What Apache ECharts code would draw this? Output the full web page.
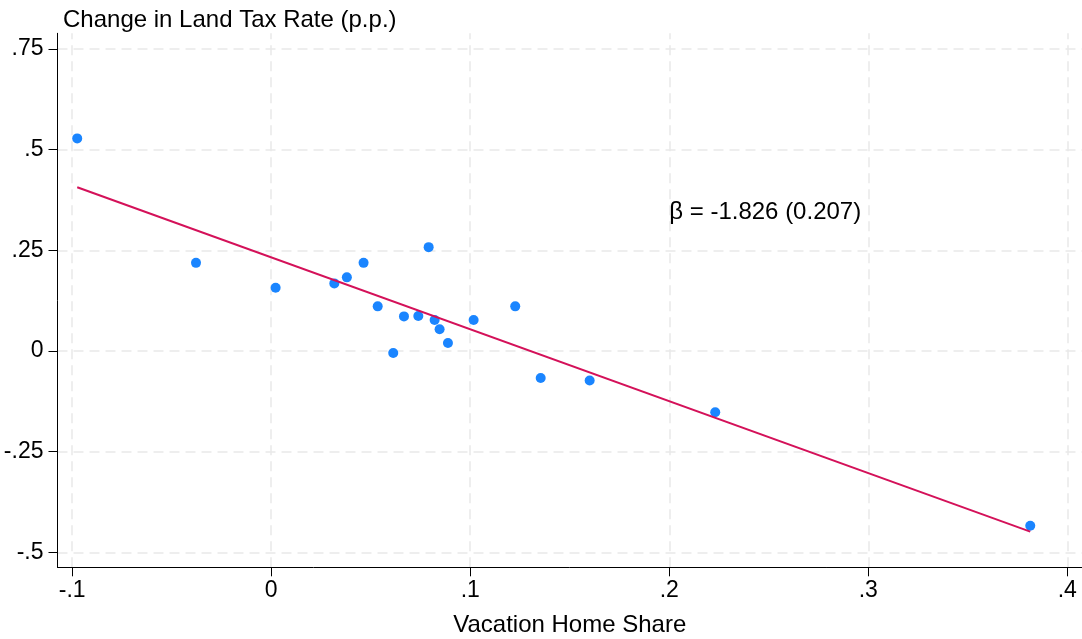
<!DOCTYPE html>
<html>
<head>
<meta charset="utf-8">
<script src="https://cdn.jsdelivr.net/npm/echarts@6/dist/echarts.min.js"></script>
<style>
  html, body { margin: 0; padding: 0; background: #fff; }
  #chart { width: 1082px; height: 639px; }
</style>
</head>
<body>
<div id="chart"></div>
<script>
// Datos
const xTicks = [-0.1, 0, 0.1, 0.2, 0.3, 0.4];
const yTicks = [-0.5, -0.25, 0, 0.25, 0.5, 0.75];

const vacationShare = [-0.0975, -0.0378, 0.0022, 0.0317, 0.0380, 0.0464, 0.0791, 0.0535, 0.0667, 0.0739,
                       0.0821, 0.0846, 0.0888, 0.0613, 0.1017, 0.1226, 0.1354, 0.1600, 0.2231, 0.3814];
const taxChange = [0.528, 0.219, 0.157, 0.168, 0.183, 0.219, 0.258, 0.111, 0.086, 0.087,
                   0.077, 0.054, 0.020, -0.005, 0.077, 0.111, -0.067, -0.073, -0.152, -0.434];

const fitX = [-0.0975, 0.3814];
const fitY = [0.4067, -0.4484];

const betaLabel = 'β = -1.826 (0.207)';
const betaPos = [0.2, 0.345];

const FONT = '"Liberation Sans", Arial, sans-serif';

// Formato estilo Stata: .5, -.25, 0
function fmt(v) {
    if (v === 0) return '0';
    return String(+v.toFixed(2)).replace('0.', '.');
}

const chart = echarts.init(document.getElementById('chart'));

const gridLine = { color: '#e9e9e9', width: 1.5, type: [10, 6] };

const option = {
    animation: false,
    backgroundColor: '#fff',
    title: {
        text: 'Change in Land Tax Rate (p.p.)',
        left: 58,
        top: 3,
        textStyle: { fontFamily: FONT, fontSize: 24, fontWeight: 'normal', color: '#000' }
    },
    grid: { left: 57.5, right: 0, top: 33.3, bottom: 71.7, outerBoundsMode: 'none' },
    xAxis: {
        type: 'value',
        min: -0.1074,
        max: 0.4074,
        name: 'Vacation Home Share',
        nameLocation: 'middle',
        nameGap: 46,
        nameTextStyle: { fontFamily: FONT, fontSize: 24, color: '#000' },
        axisLine: { show: true, onZero: false, lineStyle: { color: '#000', width: 1 } },
        axisTick: { show: true, length: 9, customValues: xTicks, lineStyle: { color: '#000', width: 1 } },
        axisLabel: { customValues: xTicks, formatter: fmt, margin: 12, fontFamily: FONT, fontSize: 23, color: '#000' },
        splitLine: { show: false }
    },
    yAxis: {
        type: 'value',
        min: -0.537,
        max: 0.789,
        axisLine: { show: true, onZero: false, lineStyle: { color: '#000', width: 1 } },
        axisTick: { show: true, length: 9, customValues: yTicks, lineStyle: { color: '#000', width: 1 } },
        axisLabel: { customValues: yTicks, formatter: fmt, margin: 14, fontFamily: FONT, fontSize: 23, color: '#000' },
        splitLine: { show: false }
    },
    series: [
        {
            // líneas de cuadrícula, debajo de todo
            type: 'line',
            data: [],
            silent: true,
            z: 0,
            markLine: {
                silent: true,
                z: 0,
                symbol: 'none',
                label: { show: false },
                lineStyle: gridLine,
                data: xTicks.map(v => ({ xAxis: v })).concat(yTicks.map(v => ({ yAxis: v })))
            }
        },
        {
            type: 'scatter',
            symbolSize: 10,
            z: 3,
            itemStyle: { color: '#1a85ff', opacity: 1, borderWidth: 0 },
            data: vacationShare.map((x, i) => [x, taxChange[i]]),
            markPoint: {
                symbol: 'circle',
                symbolSize: 0,
                data: [{ coord: betaPos }],
                label: {
                    show: true,
                    position: 'right',
                    distance: 0,
                    formatter: betaLabel,
                    fontFamily: FONT,
                    fontSize: 24,
                    color: '#000'
                }
            }
        },
        {
            type: 'line',
            symbol: 'none',
            z: 4,
            lineStyle: { color: '#d41159', width: 2 },
            data: fitX.map((x, i) => [x, fitY[i]])
        }
    ]
};

chart.setOption(option);
</script>
</body>
</html>
